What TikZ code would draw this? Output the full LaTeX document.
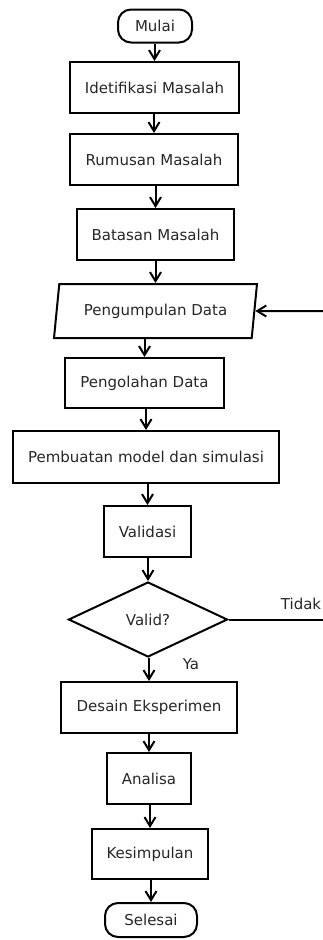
\documentclass[tikz,border=0pt]{standalone}
\usepackage{fontspec}
\setmainfont{DejaVu Sans}
\usetikzlibrary{shapes.geometric}
\usetikzlibrary{arrows.meta}
\tikzset{>={Straight Barb[width=11pt,length=9pt]}}

\begin{document}
\begin{tikzpicture}[x=1pt,y=-1pt,line width=2pt,
  font=\fontsize{15}{18}\selectfont,
  proses/.style={draw,rectangle,minimum height=51pt,inner sep=0pt,text=black!85},
  terminal/.style={draw,rectangle,rounded corners=13pt,minimum height=33pt,inner sep=0pt,text=black!85},
  keputusan/.style={draw,diamond,aspect=2.1,minimum width=159pt,minimum height=75pt,inner sep=0pt,text=black!85},
  masukan/.style={draw,trapezium,trapezium left angle=70,trapezium right angle=110,
    trapezium stretches body,minimum width=203pt,minimum height=54pt,inner sep=0pt,text=black!85}]
\useasboundingbox (0,0) rectangle (323,940);

\node[terminal,minimum width=74pt] (mulai) at (155,26) {Mulai};
\node[proses,minimum width=169pt] (idf) at (154.5,87.5) {Idetifikasi Masalah};
\node[proses,minimum width=168pt] (rum) at (154,159.5) {Rumusan Masalah};
\node[proses,minimum width=157pt] (bat) at (155.5,234.5) {Batasan Masalah};
\node[masukan] (kum) at (155.5,311) {Pengumpulan Data};
\node[proses,minimum width=159pt,minimum height=50pt] (olah) at (144.5,383) {Pengolahan Data};
\node[proses,minimum width=266pt,minimum height=52pt] (model) at (146,457) {Pembuatan model dan simulasi};
\node[proses,minimum width=87pt] (val) at (147.5,531.5) {Validasi};
\node[keputusan] (cek) at (148,619.5) {Valid?};
\node[proses,minimum width=176pt] (desain) at (149,707.5) {Desain Eksperimen};
\node[proses,minimum width=84pt] (anl) at (149,778.5) {Analisa};
\node[proses,minimum width=116pt,minimum height=50pt] (simp) at (150,854) {Kesimpulan};
\node[terminal,minimum width=92pt,minimum height=34pt] (selesai) at (151,920) {Selesai};

\node[text=black!85] (ya) at (191,664) {Ya};
\node[text=black!85] (tidak) at (301,604) {Tidak};
\coordinate (ujung) at (323,619.5);
\coordinate (balik) at (323,311);

\draw[->] (mulai.south -| idf.north) -- (idf.north);
\draw[->] (idf.south -| rum.north) -- (rum.north);
\draw[->] (rum.south -| bat.north) -- (bat.north);
\draw[->] (bat.south -| kum.north) -- (kum.north);
\draw[->] (kum.south -| olah.north) -- (olah.north);
\draw[->] (olah.south -| model.north) -- (model.north);
\draw[->] (model.south -| val.north) -- (val.north);
\draw[->] (val.south -| cek.north) -- (cek.north);
\draw[->] (cek.south -| desain.north) -- (desain.north);
\draw[->] (desain.south -| anl.north) -- (anl.north);
\draw[->] (anl.south -| simp.north) -- (simp.north);
\draw[->] (simp.south -| selesai.north) -- (selesai.north);
\draw (cek.east) -- (ujung);
\draw[->] (balik) -- (kum.east);

\end{tikzpicture}
\end{document}
